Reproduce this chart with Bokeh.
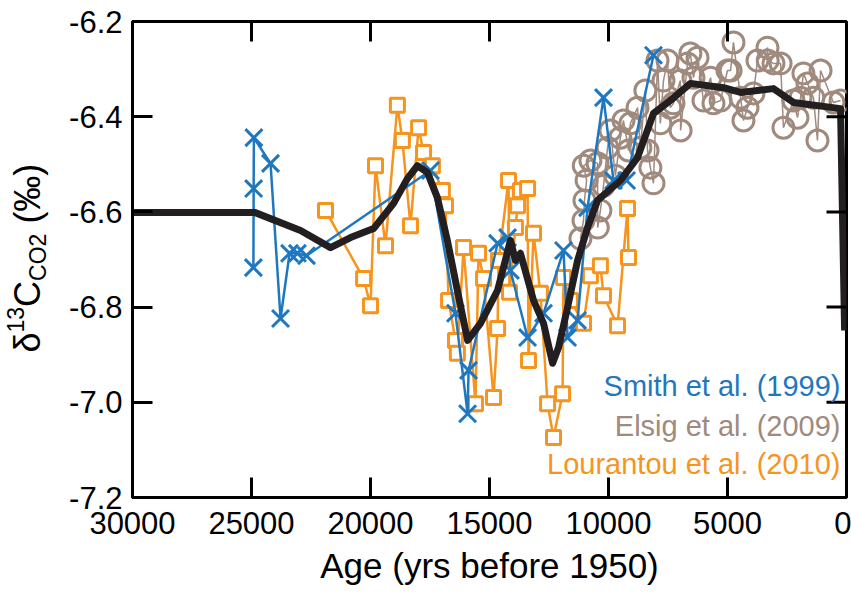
import math
from bokeh.plotting import figure
from bokeh.layouts import row
from bokeh.models import Range1d, FixedTicker, NumeralTickFormatter, Label
from bokeh.embed import file_html
from bokeh.resources import INLINE

# ---------------- data ----------------
smith_age = [24920, 24910, 24900, 24200, 23780, 23400, 23070, 22690, 17480, 16430,
             15920, 15880, 14660, 14240, 14120, 13400, 12730, 11890, 11720, 11300,
             10880, 10210, 9790, 9240, 8110]
smith_d13c = [-6.717, -6.551, -6.444, -6.498, -6.824, -6.687, -6.687, -6.692, -6.513, -6.813,
              -7.024, -6.933, -6.666, -6.654, -6.723, -6.864, -6.813, -6.681, -6.864, -6.828,
              -6.591, -6.360, -6.534, -6.534, -6.271]

elsig_age = [11180, 11050, 11010, 10920, 11040, 10760, 10460, 10450, 10340, 10210,
             10040, 9920, 9710, 9500, 9370, 9160, 9080, 8780, 8660, 8450,
             8360, 8240, 8110, 7940, 7820, 7690, 7520, 7400, 7270, 6980,
             6970, 6680, 6560, 6430, 6260, 6010, 5710, 5590, 5290, 5000,
             4870, 4750, 4450, 4330, 4160, 3910, 3740, 3320, 3310, 3070,
             2770, 2650, 2230, 2060, 1930, 1810, 1640, 1390, 1220, 1090,
             550, 250]
elsig_d13c = [-6.656, -6.618, -6.576, -6.534, -6.503, -6.492, -6.498, -6.633, -6.597, -6.545,
              -6.465, -6.429, -6.524, -6.444, -6.408, -6.471, -6.414, -6.381, -6.465, -6.345,
              -6.471, -6.507, -6.540, -6.282, -6.414, -6.324, -6.282, -6.381, -6.372, -6.324,
              -6.429, -6.288, -6.267, -6.318, -6.276, -6.366, -6.318, -6.372, -6.366, -6.303,
              -6.303, -6.244, -6.360, -6.408, -6.381, -6.351, -6.282, -6.255, -6.282, -6.288,
              -6.288, -6.423, -6.366, -6.402, -6.360, -6.309, -6.330, -6.360, -6.450, -6.303,
              -6.370, -6.366]

lourantou_age = [21890, 20290, 20000, 19790, 19370, 18870, 18660, 18320, 17980, 17770,
                 17400, 16980, 16850, 16720, 16430, 16350, 16090, 15590, 15460, 15250,
                 14830, 14660, 14620, 14200, 14160, 13910, 13820, 13700, 13400, 13360,
                 13150, 12860, 12560, 12310, 11930, 11890, 11600, 11050, 10760, 10340,
                 10210, 9620, 9200, 9160]
lourantou_d13c = [-6.597, -6.740, -6.797, -6.503, -6.671, -6.376, -6.450, -6.629, -6.423, -6.475,
                  -6.503, -6.555, -6.587, -6.786, -6.870, -6.897, -6.675, -7.003, -6.687, -6.740,
                  -6.990, -6.845, -6.702, -6.534, -6.769, -6.633, -6.587, -6.555, -6.551, -6.912,
                  -6.645, -6.771, -7.003, -7.074, -6.982, -6.738, -6.786, -6.834, -6.734, -6.713,
                  -6.776, -6.839, -6.593, -6.696]

spline_age = [30000, 24870, 22940, 21680, 20840, 19870, 19030, 18450, 18030, 17610,
              17190, 16770, 16350, 15920, 15380, 14660, 14120, 13910, 13700, 13150,
              12730, 12350, 12100, 11720, 11300, 10880, 10460, 9500, 8780, 8110,
              7400, 6560, 5170, 4450, 3070, 2230, 250, 80]
spline_d13c = [-6.601, -6.601, -6.639, -6.675, -6.654, -6.635, -6.582, -6.530, -6.503, -6.517,
               -6.570, -6.660, -6.765, -6.870, -6.834, -6.765, -6.660, -6.702, -6.687, -6.786,
               -6.834, -6.918, -6.885, -6.801, -6.702, -6.633, -6.576, -6.534, -6.486, -6.393,
               -6.366, -6.330, -6.339, -6.349, -6.341, -6.370, -6.383, -6.849]

x_ticks = [30000, 25000, 20000, 15000, 10000, 5000, 0]
y_ticks = [-7.2, -7.0, -6.8, -6.6, -6.4, -6.2]

legend_names = ["Smith et al. (1999)", "Elsig et al. (2009)", "Lourantou et al. (2010)"]

BLUE = "#1f77bf"
BROWN = "#a08a7e"
ORANGE = "#f7941d"
BLACK = "#231f20"
FONT = "Liberation Sans"

TITLE_W = 62   # width of the strip that holds the y-axis title
X0, X1, Y0, Y1 = 30000, 0, -7.2, -6.2
FRAME_W, FRAME_H = 714, 476   # frame size in pixels

# ---------------- main figure ----------------
p = figure(width=851 - TITLE_W, height=595, output_backend="svg", toolbar_location=None,
           x_range=Range1d(X0, X1), y_range=Range1d(Y0, Y1),
           min_border_left=132 - TITLE_W, min_border_right=5, min_border_top=21,
           min_border_bottom=98)
p.grid.visible = False
p.outline_line_color = "black"
p.outline_line_width = 3
p.background_fill_color = "white"
p.border_fill_color = "white"

def style_axis(ax, ticks, fmt):
    ax.ticker = FixedTicker(ticks=ticks)
    ax.formatter = NumeralTickFormatter(format=fmt)
    ax.major_tick_in = 20
    ax.major_tick_out = 0
    ax.major_tick_line_width = 3
    ax.major_tick_line_color = "black"
    ax.minor_tick_line_color = None
    ax.axis_line_width = 3
    ax.axis_line_color = "black"
    ax.major_label_text_font = FONT
    ax.major_label_text_color = "black"
    ax.major_label_text_font_size = "31px"

style_axis(p.xaxis[0], x_ticks, "0")
style_axis(p.yaxis[0], y_ticks, "0.0")
p.xaxis[0].major_label_standoff = 14
p.yaxis[0].major_label_standoff = 10
p.xaxis[0].axis_label = "Age (yrs before 1950)"
p.xaxis[0].axis_label_text_font = FONT
p.xaxis[0].axis_label_text_font_size = "35px"
p.xaxis[0].axis_label_text_font_style = "normal"
p.xaxis[0].axis_label_text_color = "black"
p.xaxis[0].axis_label_standoff = 9

# ---------------- series ----------------
p.line(elsig_age, elsig_d13c, line_color=BROWN, line_width=1.5)
p.scatter(elsig_age, elsig_d13c, marker="circle", size=21, line_color=BROWN,
          line_width=3, fill_color=None)

p.line(lourantou_age, lourantou_d13c, line_color=ORANGE, line_width=2.5)
p.scatter(lourantou_age, lourantou_d13c, marker="square", size=14, line_color=ORANGE,
          line_width=3, fill_color="white")

p.line(smith_age, smith_d13c, line_color=BLUE, line_width=2.5)
p.scatter(smith_age, smith_d13c, marker="x", size=24, line_color=BLUE, line_width=3)

p.line(spline_age, spline_d13c, line_color=BLACK, line_width=7, line_join="round")

# ---------------- mirrored inward ticks on the top and right edges ----------------
TICK_PX = 20
dy_tick = TICK_PX * (Y1 - Y0) / FRAME_H
dx_tick = TICK_PX * (X0 - X1) / FRAME_W
p.segment(x0=x_ticks, y0=[Y1] * len(x_ticks), x1=x_ticks, y1=[Y1 - dy_tick] * len(x_ticks),
          line_color="black", line_width=3)
p.segment(x0=[X1] * len(y_ticks), y0=y_ticks, x1=[X1 + dx_tick] * len(y_ticks), y1=y_ticks,
          line_color="black", line_width=3)

# ---------------- legend as coloured text ----------------
def px_to_age(px):
    return X0 - (px - 132) * (X0 - X1) / FRAME_W

def py_to_d(py):
    return Y1 - (py - 21) * (Y1 - Y0) / FRAME_H

for name, col, py in zip(legend_names, [BLUE, BROWN, ORANGE], [385, 425, 463]):
    p.add_layout(Label(x=px_to_age(840), y=py_to_d(py), text=name, text_color=col,
                       text_font=FONT, text_font_size="29px", text_align="right",
                       text_baseline="middle"))

# ---------------- y-axis title strip (canvas pixels) ----------------
t = figure(width=TITLE_W, height=595, output_backend="svg", toolbar_location=None,
           x_range=Range1d(0, TITLE_W), y_range=Range1d(0, 595),
           x_axis_location=None, y_axis_location=None,
           min_border_left=0, min_border_right=0, min_border_top=0, min_border_bottom=0)
t.xgrid.grid_line_color = None
t.ygrid.grid_line_color = None
t.outline_line_color = None
t.background_fill_color = "white"
t.border_fill_color = "white"

W = {"δ": 0.556, "1": 0.556, "3": 0.556, "C": 0.722, "O": 0.778, "2": 0.556,
     " ": 0.278, "(": 0.333, ")": 0.333, "‰": 1.0}
F_MAIN, F_SMALL = 36, 23
base_px = 27
# (text, font size, sideways offset, gap before the piece in em)
pieces = [("δ", F_MAIN, 0, 0.0), ("13", F_SMALL, -12, 0.0), ("C", F_MAIN, 0, 0.0),
          ("CO2", F_SMALL, 10, 0.0), ("(‰)", F_MAIN, 0, 0.278)]
py = 352.0
for txt, fs, off, gap in pieces:
    py -= gap * fs
    t.add_layout(Label(x=base_px + off, y=py, x_units="canvas", y_units="canvas",
                       text=txt, angle=math.pi / 2, angle_units="rad", text_font=FONT,
                       text_font_size=f"{fs}px", text_color="black", text_align="left",
                       text_baseline="alphabetic"))
    py -= sum(W[c] for c in txt) * fs

layout = row(t, p)
open("out.html", "w").write(file_html(layout, INLINE))
